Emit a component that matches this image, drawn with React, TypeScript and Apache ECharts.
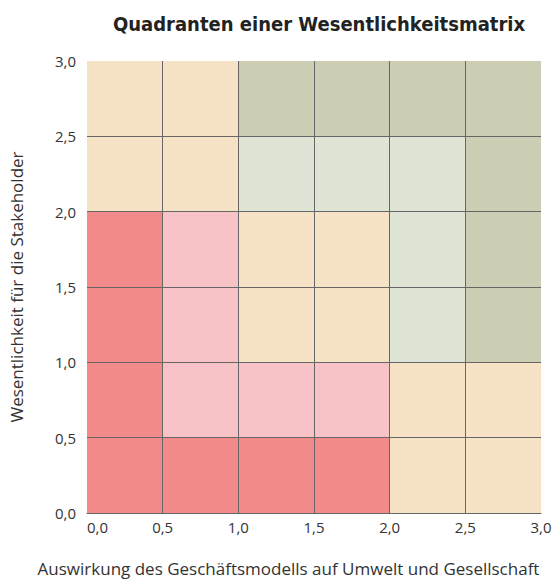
import React, { useEffect, useRef } from "react";
import * as echarts from "echarts";

const titleText = "Quadranten einer Wesentlichkeitsmatrix";
const xAxisName = "Auswirkung des Geschäftsmodells auf Umwelt und Gesellschaft";
const yAxisName = "Wesentlichkeit für die Stakeholder";

const xStarts = [0, 0.5, 1, 1.5, 2, 2.5];
const yStarts = [0, 0.5, 1, 1.5, 2, 2.5];
const cellSize = 0.5;
const tickLabels = ["0,0", "0,5", "1,0", "1,5", "2,0", "2,5", "3,0"];

// zone index per cell, rows from bottom (y 0–0.5) to top (y 2.5–3.0)
const zoneRow0 = [0, 0, 0, 0, 2, 2];
const zoneRow1 = [0, 1, 1, 1, 2, 2];
const zoneRow2 = [0, 1, 2, 2, 3, 4];
const zoneRow3 = [0, 1, 2, 2, 3, 4];
const zoneRow4 = [2, 2, 3, 3, 3, 4];
const zoneRow5 = [2, 2, 4, 4, 4, 4];
const zoneRows = [zoneRow0, zoneRow1, zoneRow2, zoneRow3, zoneRow4, zoneRow5];

const zoneColors = ["#f28a8a", "#f7c3c6", "#f6e3c6", "#dee5d4", "#cdcdb4"];

export default function App() {
  const ref = useRef<HTMLDivElement>(null);
  useEffect(() => {
    document.body.style.margin = "0";
    if (!ref.current) return;
    const chart = echarts.init(ref.current, undefined, { renderer: "svg" });
    const data: number[][] = [];
    zoneRows.forEach((row, yi) => {
      row.forEach((z, xi) => {
        data.push([xStarts[xi], yStarts[yi], z]);
      });
    });
    const fmt = (v: number) => tickLabels[Math.round(v / cellSize)] ?? "";
    chart.setOption({
      animation: false,
      title: {
        text: titleText,
        left: 314,
        top: 9,
        textAlign: "center",
        textStyle: {
          fontFamily: "DejaVu Sans Condensed",
          fontWeight: "bold",
          fontSize: 20,
          color: "#222",
        },
      },
      grid: { left: 87, right: 16, top: 61, bottom: 68 },
      xAxis: {
        type: "value",
        min: 0,
        max: 3,
        interval: 0.5,
        z: 5,
        name: xAxisName,
        nameLocation: "middle",
        nameGap: 47,
        nameTextStyle: {
          fontFamily: "Open Sans",
          fontSize: 17,
          color: "#333",
          padding: [0, 51, 0, 0],
        },
        axisLine: { show: true, lineStyle: { color: "#666", width: 1 } },
        axisTick: { show: false },
        splitLine: {
          show: true,
          showMinLine: false,
          showMaxLine: false,
          lineStyle: { color: "#666", width: 1 },
        },
        axisLabel: {
          formatter: fmt,
          fontFamily: "Open Sans",
          fontSize: 15,
          color: "#333",
          margin: 6,
          alignMinLabel: "left",
        },
      },
      yAxis: {
        type: "value",
        min: 0,
        max: 3,
        interval: 0.5,
        z: 5,
        name: yAxisName,
        nameLocation: "middle",
        nameGap: 62,
        nameTextStyle: {
          fontFamily: "Open Sans",
          fontSize: 17,
          color: "#333",
        },
        axisLine: { show: false },
        axisTick: { show: false },
        splitLine: {
          show: true,
          showMinLine: false,
          showMaxLine: false,
          lineStyle: { color: "#666", width: 1 },
        },
        axisLabel: {
          formatter: fmt,
          fontFamily: "Open Sans",
          fontSize: 15,
          color: "#333",
          margin: 11,
        },
      },
      series: [
        {
          type: "custom",
          data,
          encode: { x: 0, y: 1 },
          renderItem: (params: any, api: any) => {
            const x0 = api.value(0);
            const y0 = api.value(1);
            const p0 = api.coord([x0, y0]);
            const p1 = api.coord([x0 + cellSize, y0 + cellSize]);
            return {
              type: "rect",
              shape: {
                x: p0[0],
                y: p1[1],
                width: p1[0] - p0[0],
                height: p0[1] - p1[1],
              },
              style: { fill: zoneColors[api.value(2)] },
            };
          },
        },
      ],
    });
    return () => chart.dispose();
  }, []);
  return <div ref={ref} style={{ width: 557, height: 582 }} />;
}
